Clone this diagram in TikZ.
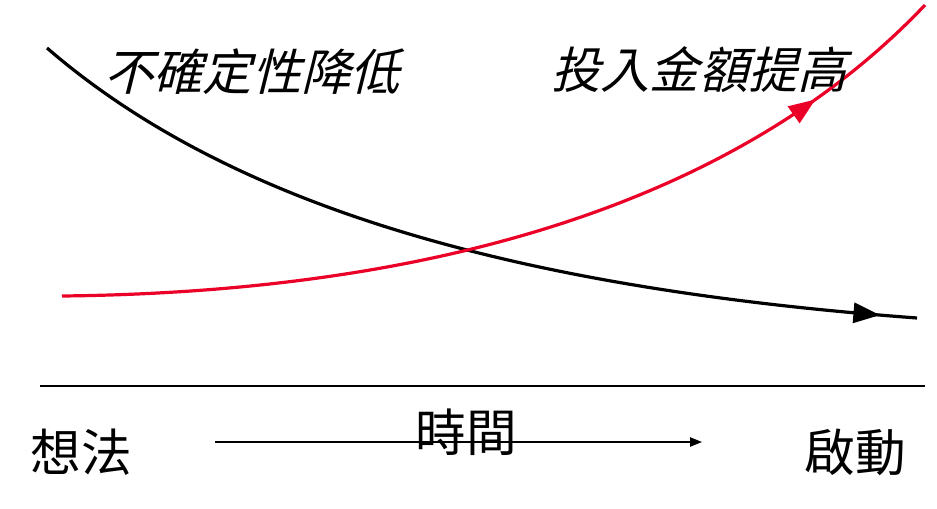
\documentclass[tikz,border=0pt]{standalone}
\usepackage{fontspec}
\newfontfamily\cjk{Noto Sans CJK TC}
\newfontfamily\cjkit[FakeSlant=0.25]{Noto Sans CJK TC}
\usetikzlibrary{decorations.markings,arrows.meta}
\definecolor{curvered}{RGB}{235,0,40}
\tikzset{
  curve/.style={line width=2.4pt},
  lbl/.style={font=\cjk\fontsize{38}{42}\selectfont, inner sep=0pt},
  itlbl/.style={font=\cjkit\fontsize{37}{42}\selectfont, inner sep=0pt},
  midarrow/.style={postaction={decorate},decoration={markings,mark=at position #1 with {\arrow{Triangle[length=20pt,width=15pt]}}}}
}
\begin{document}
\begin{tikzpicture}[x=0.75pt,y=-0.75pt]
\useasboundingbox (0,0) rectangle (937,509);
% curves
\coordinate (bs) at (47,48);
\coordinate (be) at (917,318);
\coordinate (rs) at (62,296);
\coordinate (re) at (925,5);
\draw[curve, midarrow=0.96] (bs) .. controls (240,215) and (540,290) .. (be);
\draw[curve, curvered, midarrow=0.845] (rs) .. controls (440,292) and (740,200) .. (re);
% labels
\node[itlbl] (unc) at (252,72) {不確定性降低};
\node[itlbl] (inv) at (699,70) {投入金額提高};
% baseline
\coordinate (hl) at (40,386);
\coordinate (hr) at (925,386);
\draw[line width=1pt] (hl) -- (hr);
% time axis
\node[lbl] (idea) at (81,452) {想法};
\node[lbl] (start) at (855,452) {啟動};
\node[lbl] (time) at (466,432) {時間};
\coordinate (ta) at (215,442);
\coordinate (tb) at (702,442);
\draw[line width=1pt,-{Triangle[length=9pt,width=7pt]}] (ta) -- (tb);
\end{tikzpicture}
\end{document}
